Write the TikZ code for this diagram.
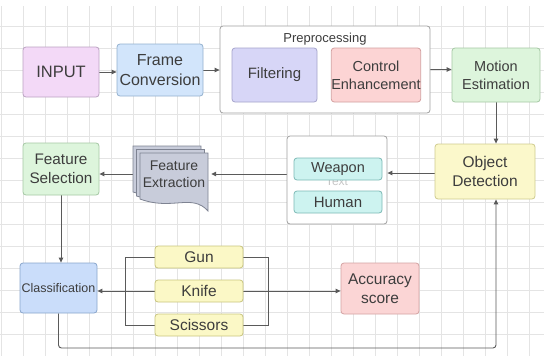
\documentclass[tikz,border=0pt]{standalone}
\usepackage{fontspec}
\setmainfont{Liberation Sans}
\usetikzlibrary{arrows.meta,calc}
\pgfdeclarelayer{gridlayer}
\pgfdeclarelayer{lineslayer}
\pgfsetlayers{gridlayer,lineslayer,main}
\definecolor{txt}{HTML}{3D3D3D}
\definecolor{linec}{HTML}{5A5A5A}
\definecolor{gridc}{HTML}{E4E4E4}
\definecolor{inF}{HTML}{F3D9F7}\definecolor{inD}{HTML}{BBA3C2}
\definecolor{frF}{HTML}{D2E5FB}\definecolor{frD}{HTML}{93B1CF}
\definecolor{fiF}{HTML}{D7D6F7}\definecolor{fiD}{HTML}{A5A4CC}
\definecolor{ceF}{HTML}{FCD4D4}\definecolor{ceD}{HTML}{D3A0A0}
\definecolor{meF}{HTML}{DDF5DC}\definecolor{meD}{HTML}{A5C8A4}
\definecolor{odF}{HTML}{FBF8CB}\definecolor{odD}{HTML}{CFCB8E}
\definecolor{wpF}{HTML}{CDF3F0}\definecolor{wpD}{HTML}{7DBAB6}
\definecolor{feF}{HTML}{C8CCDA}\definecolor{feD}{HTML}{7E8392}
\definecolor{clF}{HTML}{CADDFA}\definecolor{clD}{HTML}{88A5CC}
\definecolor{gkF}{HTML}{FBF8C6}\definecolor{gkD}{HTML}{C9C57E}
\definecolor{acF}{HTML}{FBD5D5}\definecolor{acD}{HTML}{D4A2A2}
\definecolor{ctD}{HTML}{A0A0A0}
\newcommand{\fs}[1]{\fontsize{#1}{\fpeval{#1*1.22}}\selectfont}
\tikzset{
  bx/.style n args={4}{draw=#2, fill=#1, rounded corners=3, line width=0.8,
     minimum width=#3, minimum height=#4, align=center, text=txt, inner sep=1pt},
  cont/.style n args={2}{draw=ctD, fill=white, rounded corners=3, line width=0.8,
     minimum width=#1, minimum height=#2},
  arr/.style={draw=linec, line width=0.9, -{Triangle[length=5,width=4.5]}},
  ln/.style={draw=linec, line width=0.9},
  sheet/.style={draw=feD, fill=feF, line width=0.8}
}
\begin{document}
\begin{tikzpicture}[x=1pt,y=-1pt]
\useasboundingbox (0,0) rectangle (544,356);
\begin{pgfonlayer}{gridlayer}
  \fill[white] (0,0) rectangle (544,356);
  \foreach \gx in {1,23,...,543} \draw[gridc, line width=0.7] (\gx,6) -- (\gx,356);
  \foreach \gy in {26,48,...,356} \draw[gridc, line width=0.7] (0,\gy) -- (544,\gy);
\end{pgfonlayer}

% top row
\node[bx={inF}{inD}{76}{50}, font=\fs{16.5}] (input) at (61,72) {INPUT};
\node[bx={frF}{frD}{86}{52}, font=\fs{16}] (frame) at (160,70) {Frame\\Conversion};
\node[cont={210}{87}] (prep) at (325,69.5) {};
\node[text=txt, font=\fs{13}] (preplbl) at (325,39) {Preprocessing};
\node[bx={fiF}{fiD}{85}{54}, font=\fs{15}] (filter) at (274.5,75) {Filtering};
\node[bx={ceF}{ceD}{86}{54}, font=\fs{14.5}, inner sep=0pt] (ctrl) at (376,75) {Control\\Enhancement};
\node[bx={meF}{meD}{88}{54}, font=\fs{14.5}] (motion) at (496,75) {Motion\\Estimation};

% middle row
\node[bx={odF}{odD}{100}{55}, font=\fs{15.5}] (objdet) at (485,171.5) {Object\\Detection};
\node[cont={100}{88}] (wcont) at (337,180) {};
\node[text=gray!45, font=\fs{12}] (wtext) at (337,181) {Text};
\node[bx={wpF}{wpD}{88}{22}, font=\fs{14.5}] (weapon) at (338,169) {Weapon};
\node[bx={wpF}{wpD}{88}{22}, font=\fs{15}] (human) at (338,202) {Human};

\filldraw[sheet] (133,146) -- (201,146) -- (201,196) .. controls (185,184) and (165,202) .. (133,192) -- cycle;
\filldraw[sheet] (136.5,149.5) -- (204.5,149.5) -- (204.5,200) .. controls (188,188) and (168,206) .. (136.5,196) -- cycle;
\filldraw[sheet] (140,153) -- (208,153) -- (208,211) .. controls (192,193) and (172,211) .. (140,199) -- cycle;
\node[text=txt, font=\fs{14}, align=center, minimum width=68, minimum height=46, inner sep=0pt] (fe) at (174,174) {Feature\\Extraction};
\coordinate (feback) at (133,174);

\node[bx={meF}{meD}{76}{52}, font=\fs{15.3}] (fsel) at (61,169) {Feature\\Selection};

% bottom row
\node[bx={clF}{clD}{77}{50}, font=\fs{12.5}, inner sep=0pt] (class) at (58.5,288) {Classification};
\node[bx={gkF}{gkD}{88}{22}, font=\fs{15.5}] (gun) at (199,257) {Gun};
\node[bx={gkF}{gkD}{88}{22}, font=\fs{15.5}] (knife) at (199,291) {Knife};
\node[bx={gkF}{gkD}{88}{22}, font=\fs{15.5}] (sci) at (199,325) {Scissors};
\node[bx={acF}{acD}{78}{51}, font=\fs{15.5}] (acc) at (380,288.5) {Accuracy\\score};

\begin{pgfonlayer}{lineslayer}
  \draw[arr] (input.east) -- (frame.west |- input.east);
  \draw[arr] (frame.east) -- (prep.west |- frame.east);
  \draw[arr] (prep.east) -- (motion.west |- prep.east);
  \draw[arr] (motion.south) -- (motion.south |- objdet.north);
  \draw[arr] (objdet.west |- 0,173) -- (wcont.east |- 0,173);
  \draw[arr] (wcont.west |- fe.east) -- ([xshift=3]fe.east);
  \draw[arr] (feback) -- (fsel.east |- feback);
  \draw[arr] (fsel.south) -- (fsel.south |- class.north);
  \draw[ln] (gun.west) -- ++(-29,0) |- (sci.west);
  \draw[ln] (gun.east) -- ++(25,0) |- (sci.east);
  \draw[arr] (knife.west) -- (class.east |- knife.west);
  \draw[arr] (knife.east) -- (acc.west |- knife.east);
  \draw[arr, rounded corners=3] (class.south) -- (class.south |- 0,348) -| (motion.south |- objdet.south);
\end{pgfonlayer}
\end{tikzpicture}
\end{document}
